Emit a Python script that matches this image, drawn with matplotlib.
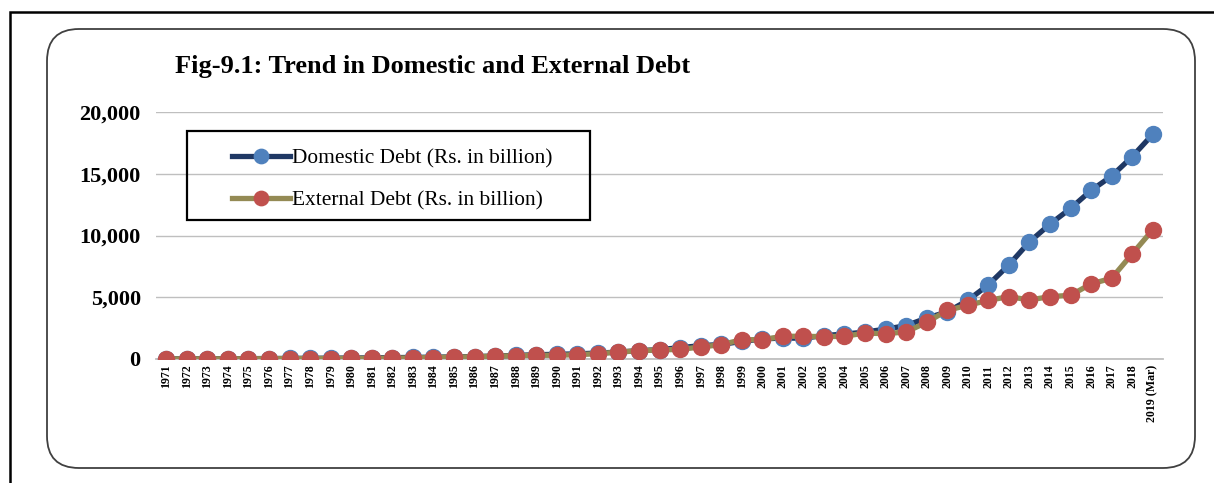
import numpy as np
import matplotlib.pyplot as plt
import matplotlib.patches as mpatches
from matplotlib.transforms import IdentityTransform
from matplotlib.ticker import FuncFormatter

years = [str(y) for y in range(1971, 2019)] + ['2019 (Mar)']

domestic = [10, 15, 20, 25, 30, 40, 50, 60, 70, 80,
            95, 110, 130, 150, 170, 200, 240, 290, 350, 380,
            420, 480, 560, 680, 760, 920, 1080, 1180, 1420, 1620,
            1700, 1680, 1900, 2020, 2180, 2420, 2700, 3320, 3810, 4750,
            6000, 7620, 9480, 10920, 12190, 13650, 14810, 16380, 18190]

external = [5, 8, 12, 16, 20, 25, 30, 35, 40, 45,
            55, 70, 90, 120, 150, 180, 230, 260, 300, 300,
            350, 430, 560, 670, 730, 780, 970, 1160, 1560, 1560,
            1840, 1840, 1810, 1840, 2100, 2050, 2190, 2970, 3940, 4350,
            4750, 5050, 4780, 5050, 5160, 6080, 6540, 8510, 10460]

W, H = 1214, 483
fig = plt.figure(figsize=(W / 100, H / 100), dpi=100)
px = IdentityTransform()

# outer frame and rounded chart area
fig.patches.append(mpatches.Rectangle((10, -20), W + 20, H - 12 + 20, fill=False,
                                      edgecolor='black', linewidth=1.8, transform=px))
fig.patches.append(mpatches.FancyBboxPatch((47, H - 468), 1195 - 47, 468 - 29,
                                           boxstyle="round,pad=0,rounding_size=32",
                                           fill=False, edgecolor='#404040', linewidth=1.3,
                                           transform=px))

ax = fig.add_axes([156 / W, 1 - 359 / H, (1163 - 156) / W, (359 - 112) / H])
x = np.arange(len(years))

ax.plot(x, domestic, color='#1F3864', linewidth=3.8, marker='o', markersize=11.5,
        markerfacecolor='#4F81BD', markeredgecolor='#4F81BD',
        label='Domestic Debt (Rs. in billion)', zorder=3)
ax.plot(x, external, color='#948A54', linewidth=3.8, marker='o', markersize=11.5,
        markerfacecolor='#C0504D', markeredgecolor='#C0504D',
        label='External Debt (Rs. in billion)', zorder=4)

ax.set_xlim(-0.5, len(years) - 0.5)
ax.set_ylim(0, 20000)
ax.set_yticks([0, 5000, 10000, 15000, 20000])
ax.yaxis.set_major_formatter(FuncFormatter(lambda v, p: f'{int(v):,}'))
ax.grid(axis='y', color='#BFBFBF', linewidth=1)
ax.set_axisbelow(True)
for s in ['top', 'right', 'left']:
    ax.spines[s].set_visible(False)
ax.spines['bottom'].set_color('#BFBFBF')
ax.spines['bottom'].set_linewidth(1.3)
ax.tick_params(axis='both', length=0)
ax.tick_params(axis='y', pad=11)
ax.tick_params(axis='x', pad=4)

ax.set_xticks(x)
ax.set_xticklabels(years, rotation=90, fontsize=8.6, fontweight='bold',
                   family='Liberation Serif', va='top')
for lab in ax.get_yticklabels():
    lab.set_fontfamily('Liberation Serif')
    lab.set_fontweight('bold')
    lab.set_fontsize(16)

fig.text(175 / W, 1 - 67 / H, 'Fig-9.1: Trend in Domestic and External Debt',
         fontsize=19, fontweight='bold', family='Liberation Serif', va='center')

# legend box drawn separately, entries placed inside it
fig.patches.append(mpatches.Rectangle((187, H - 220), 590 - 187, 220 - 131, fill=False,
                                      edgecolor='black', linewidth=1.6, transform=px,
                                      zorder=10))
leg = ax.legend(loc='upper left', bbox_to_anchor=((232 - 156) / (1163 - 156), 1 - (149 - 112) / (359 - 112)),
                prop={'family': 'Liberation Serif', 'size': 15.4}, frameon=False,
                borderpad=0, labelspacing=1.02, handlelength=2.7,
                handletextpad=0.1, borderaxespad=0, markerscale=0.9)
leg.set_zorder(10)

fig.savefig('out.png', dpi=100)
